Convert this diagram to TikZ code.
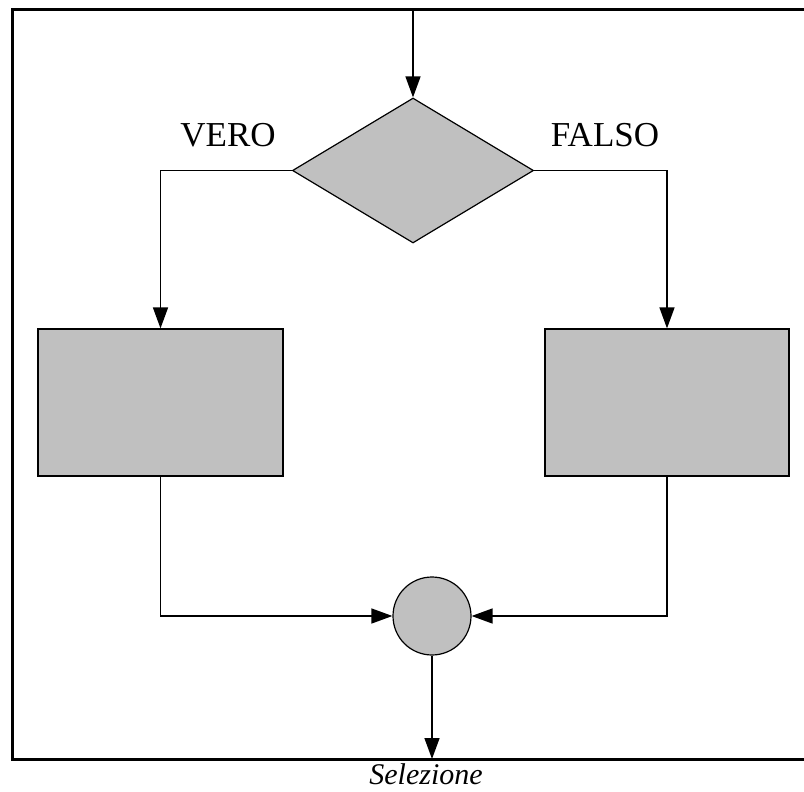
\documentclass[tikz,border=0pt]{standalone}
\usepackage{fontspec}
\setmainfont{Liberation Serif}
\usetikzlibrary{shapes.geometric,arrows.meta}
\definecolor{boxgray}{HTML}{C0C0C0}
\tikzset{
  shapeline/.style={draw=black, line width=1.2pt, fill=boxgray},
  flow/.style={draw=black, line width=1.5pt, -{Triangle[length=21pt,width=15pt]}},
  lbl/.style={font=\fontsize{35}{40}\selectfont, inner sep=0pt},
}
\begin{document}
\begin{tikzpicture}[x=1pt,y=-1pt]
\useasboundingbox (0,0) rectangle (804,792);
% frame
\draw[line width=3pt] (810,10) -- (12,10) -- (12,759) -- (810,759);
% nodes
\coordinate (start) at (413,10);
\node[shapeline, diamond, minimum width=241pt, minimum height=145pt, inner sep=0pt] (dec) at (413,170.5) {};
\node[shapeline, rectangle, minimum width=245pt, minimum height=147pt, inner sep=0pt] (lbox) at (160.5,402.5) {};
\node[shapeline, rectangle, minimum width=244pt, minimum height=147pt, inner sep=0pt] (rbox) at (667,402.5) {};
\node[shapeline, circle, minimum size=78pt, inner sep=0pt] (join) at (432,616) {};
\coordinate (end) at (432,759);
\coordinate (lc) at (160.5,170.5);
\coordinate (rc) at (667,170.5);
\coordinate (lb) at (160.5,616);
\coordinate (rb) at (667,616);
% labels
\node[lbl] (vero) at (228,135) {VERO};
\node[lbl] (falso) at (605,135) {FALSO};
\node[font=\fontsize{30}{34}\selectfont\itshape, inner sep=0pt, anchor=base] (cap) at (426,784) {Selezione};
% connectors
\draw[flow] (start) -- (dec.north);
\draw[flow] (dec.west) -- (lc) -- (lbox.north);
\draw[flow] (dec.east) -- (rc) -- (rbox.north);
\draw[flow] (lbox.south) -- (lb) -- (join.west);
\draw[flow] (rbox.south) -- (rb) -- (join.east);
\draw[flow] (join.south) -- (end);
\end{tikzpicture}
\end{document}
